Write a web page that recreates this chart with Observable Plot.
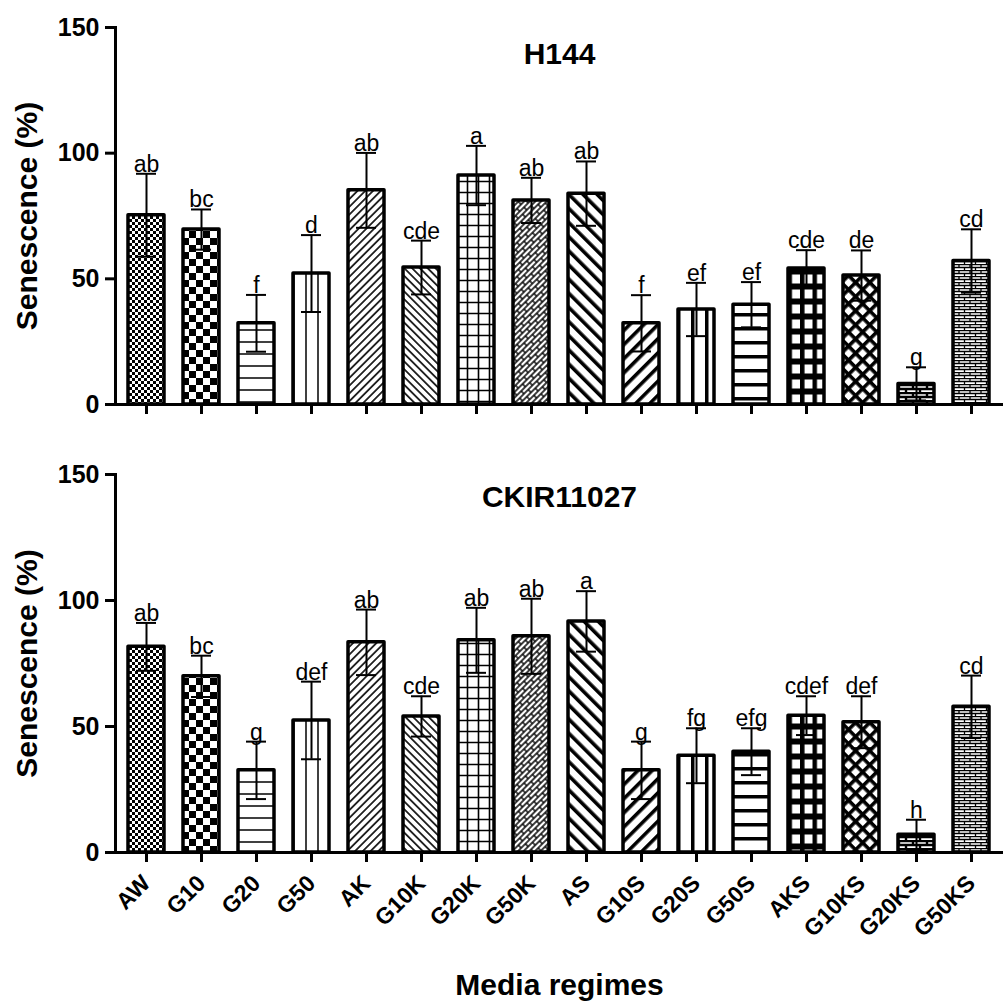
<!DOCTYPE html>
<html>
<head>
<meta charset="utf-8">
<script src="https://cdn.jsdelivr.net/npm/d3@7"></script>
<script src="https://cdn.jsdelivr.net/npm/@observablehq/plot@0.6"></script>
<style>
  body { margin: 0; background: #fff; }
  #chart svg { display: block; }
</style>
</head>
<body>
<svg width="0" height="0" style="position:absolute">
  <defs>
    <pattern id="pat-AW" patternUnits="userSpaceOnUse" width="6" height="6">
      <rect width="6" height="6" fill="#fff"/>
      <rect width="3" height="3" fill="#000"/>
      <rect x="3" y="3" width="3" height="3" fill="#000"/>
    </pattern>
    <pattern id="pat-G10" patternUnits="userSpaceOnUse" width="14" height="14">
      <rect width="14" height="14" fill="#fff"/>
      <rect width="7" height="7" fill="#000"/>
      <rect x="7" y="7" width="7" height="7" fill="#000"/>
    </pattern>
    <pattern id="pat-G20" patternUnits="userSpaceOnUse" width="10" height="12">
      <rect width="10" height="12" fill="#fff"/>
      <line x1="0" y1="6" x2="10" y2="6" stroke="#000" stroke-width="1.5"/>
    </pattern>
    <pattern id="pat-G50" patternUnits="userSpaceOnUse" width="12" height="10">
      <rect width="12" height="10" fill="#fff"/>
      <line x1="6" y1="0" x2="6" y2="10" stroke="#000" stroke-width="1.5"/>
    </pattern>
    <pattern id="pat-AK" patternUnits="userSpaceOnUse" width="5.5" height="5.5" patternTransform="rotate(45)">
      <rect width="5.5" height="5.5" fill="#fff"/>
      <line x1="2.75" y1="0" x2="2.75" y2="5.5" stroke="#000" stroke-width="1.6"/>
    </pattern>
    <pattern id="pat-G10K" patternUnits="userSpaceOnUse" width="5.5" height="5.5" patternTransform="rotate(-45)">
      <rect width="5.5" height="5.5" fill="#fff"/>
      <line x1="2.75" y1="0" x2="2.75" y2="5.5" stroke="#000" stroke-width="1.6"/>
    </pattern>
    <pattern id="pat-G20K" patternUnits="userSpaceOnUse" width="11" height="11">
      <rect width="11" height="11" fill="#fff"/>
      <path d="M5.5,0V11M0,5.5H11" stroke="#000" stroke-width="1.6"/>
    </pattern>
    <pattern id="pat-G50K" patternUnits="userSpaceOnUse" width="12" height="8" patternTransform="rotate(-45)">
      <rect width="12" height="8" fill="#fff"/>
      <path d="M0,1H12M0,5H12M2,1V5M8,5V9M8,-1V1" stroke="#000" stroke-width="1.4"/>
    </pattern>
    <pattern id="pat-AS" patternUnits="userSpaceOnUse" width="10" height="10" patternTransform="rotate(-45)">
      <rect width="10" height="10" fill="#fff"/>
      <rect x="3" width="3.6" height="10" fill="#000"/>
    </pattern>
    <pattern id="pat-G10S" patternUnits="userSpaceOnUse" width="10" height="10" patternTransform="rotate(45)">
      <rect width="10" height="10" fill="#fff"/>
      <rect x="3" width="3.6" height="10" fill="#000"/>
    </pattern>
    <pattern id="pat-G20S" patternUnits="userSpaceOnUse" width="14" height="10">
      <rect width="14" height="10" fill="#fff"/>
      <rect x="5" width="3.5" height="10" fill="#000"/>
    </pattern>
    <pattern id="pat-G50S" patternUnits="userSpaceOnUse" width="10" height="14">
      <rect width="10" height="14" fill="#fff"/>
      <rect y="5" width="10" height="3.5" fill="#000"/>
    </pattern>
    <pattern id="pat-AKS" patternUnits="userSpaceOnUse" width="12.5" height="15">
      <rect width="12.5" height="15" fill="#000"/>
      <rect x="4.5" y="4.5" width="8" height="9" fill="#fff"/>
    </pattern>
    <pattern id="pat-G10KS" patternUnits="userSpaceOnUse" width="10" height="10" patternTransform="rotate(45)">
      <rect width="10" height="10" fill="#fff"/>
      <rect x="3" width="3.6" height="10" fill="#000"/>
      <rect y="3" width="10" height="3.6" fill="#000"/>
    </pattern>
    <pattern id="pat-G20KS" patternUnits="userSpaceOnUse" width="14" height="8">
      <rect width="14" height="8" fill="#fff"/>
      <path d="M0,1H14M0,5H14M3,1V5M10,5V9M10,-1V1" stroke="#000" stroke-width="2.4"/>
    </pattern>
    <pattern id="pat-G50KS" patternUnits="userSpaceOnUse" width="11" height="6">
      <rect width="11" height="6" fill="#fff"/>
      <path d="M0,0.5H11M0,3.5H11M2,0.5V3.5M7.5,3.5V6.5M7.5,-0.5V0.5" stroke="#000" stroke-width="1.3"/>
    </pattern>
  </defs>
</svg>
<div id="chart"></div>
<script>
// ---- data ----
const categories = ["AW","G10","G20","G50","AK","G10K","G20K","G50K","AS","G10S","G20S","G50S","AKS","G10KS","G20KS","G50KS"];

const h144Mean = [75.3, 69.6, 32.3, 52.1, 85.2, 54.5, 91.1, 81.2, 83.9, 32.3, 37.8, 39.7, 54.1, 51.3, 8.2, 57.1];
const h144Sd   = [16.5, 8.0, 11.3, 15.3, 14.9, 10.7, 11.8, 9.0, 12.8, 11.2, 10.6, 9.0, 7.3, 10.0, 6.6, 12.6];
const h144Letters = ["ab","bc","f","d","ab","cde","a","ab","ab","f","ef","ef","cde","de","g","cd"];

const ckirMean = [81.6, 69.9, 32.6, 52.4, 83.4, 54.0, 84.2, 85.8, 91.7, 32.6, 38.4, 40.0, 54.3, 51.7, 7.0, 57.8];
const ckirSd   = [9.5, 8.2, 11.4, 15.4, 13.0, 8.0, 12.9, 14.9, 12.0, 11.4, 10.9, 9.3, 7.7, 10.3, 6.0, 12.4];
const ckirLetters = ["ab","bc","g","def","ab","cde","ab","ab","a","g","fg","efg","cdef","def","h","cd"];

const yTicks = [0, 50, 100, 150];
const yTitle = "Senescence (%)";
const xTitle = "Media regimes";
const panelTitles = ["H144", "CKIR11027"];

// ---- build ----
function rows(means, sds, letters) {
  return categories.map((c, i) => ({cat: c, mean: means[i], sd: sds[i], letter: letters[i]}));
}

const FONT = "'Liberation Sans', Arial, Helvetica, sans-serif";

function panel(data, title, opts) {
  return Plot.plot({
    width: 1008,
    height: opts.height,
    marginTop: opts.marginTop,
    marginBottom: opts.marginBottom,
    marginLeft: 115,
    marginRight: 5,
    style: {fontFamily: FONT, color: "#000", background: "#fff"},
    x: {domain: categories, paddingInner: 0.34, paddingOuter: 0.17, label: null},
    y: {domain: [0, 150], label: null},
    color: {type: "identity"},
    marks: [
      Plot.barY(data, {x: "cat", y: "mean", fill: d => `url(#pat-${d.cat})`, stroke: "#000", strokeWidth: 3.5, strokeLinejoin: "round"}),
      Plot.ruleX(data, {x: "cat", y1: d => d.mean - d.sd, y2: d => d.mean + d.sd, stroke: "#000", strokeWidth: 2}),
      Plot.tickY(data, {x: "cat", y: d => d.mean + d.sd, stroke: "#000", strokeWidth: 2, insetLeft: 8, insetRight: 8}),
      Plot.tickY(data, {x: "cat", y: d => d.mean - d.sd, stroke: "#000", strokeWidth: 2, insetLeft: 8, insetRight: 8}),
      Plot.text(data, {x: "cat", y: d => d.mean + d.sd, text: "letter", lineAnchor: "bottom", dy: -2, fontSize: 23, fontWeight: "normal", fill: "#000"}),
      Plot.axisY({ticks: yTicks, tickSize: 10, tickPadding: 6, strokeWidth: 3, fontSize: 25, fontWeight: "bold", label: null}),
      opts.showLabels
        ? Plot.axisX({tickSize: 10, tickPadding: 17, tickRotate: -45, strokeWidth: 3, fontSize: 23, fontWeight: "bold", label: null})
        : Plot.axisX({tickSize: 10, strokeWidth: 3, tickFormat: () => "", label: null}),
      Plot.frame({anchor: "left", strokeWidth: 3, stroke: "#000"}),
      Plot.ruleY([0], {strokeWidth: 3, stroke: "#000"}),
      Plot.text([yTitle], {text: d => d, frameAnchor: "left", textAnchor: "middle", lineAnchor: "middle", rotate: -90, dx: -88, fontSize: 30, fontWeight: "bold", fill: "#000"}),
      Plot.text([title], {text: d => d, frameAnchor: "top", lineAnchor: "middle", dy: opts.titleDy, fontSize: 30, fontWeight: "bold", fill: "#000"}),
      opts.showLabels
        ? Plot.text([xTitle], {text: d => d, frameAnchor: "bottom", lineAnchor: "middle", dy: 133, fontSize: 30, fontWeight: "bold", fill: "#000"})
        : null
    ]
  });
}

const chart = document.getElementById("chart");
chart.append(panel(rows(h144Mean, h144Sd, h144Letters), panelTitles[0],
  {height: 440, marginTop: 27, marginBottom: 36, titleDy: 27, showLabels: false}));
chart.append(panel(rows(ckirMean, ckirSd, ckirLetters), panelTitles[1],
  {height: 561, marginTop: 34, marginBottom: 149, titleDy: 23, showLabels: true}));
</script>
</body>
</html>
